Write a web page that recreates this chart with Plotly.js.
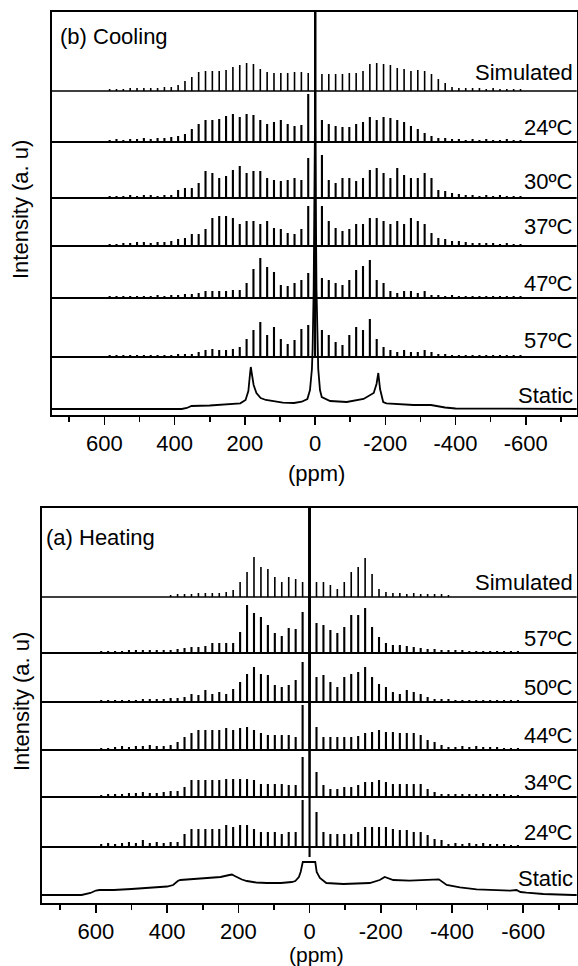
<!DOCTYPE html>
<html>
<head>
<meta charset="utf-8">
<script src="https://cdn.plot.ly/plotly-3.0.1.min.js"></script>
<style>html,body{margin:0;padding:0;background:#fff;}#chart{width:578px;height:966px;}</style>
</head>
<body>
<div id="chart"></div>
<script>
// ---------------- DATA ----------------
// spinning-sideband order (n) and sideband spacing in ppm
const sbOrder = [30,29,28,27,26,25,24,23,22,21,20,19,18,17,16,15,14,13,12,11,10,9,8,7,6,5,4,3,2,1,0,
  -1,-2,-3,-4,-5,-6,-7,-8,-9,-10,-11,-12,-13,-14,-15,-16,-17,-18,-19,-20,-21,-22,-23,-24,-25,-26,-27,-28,-29,-30];
const sbSpacingPpm = 19.5;

// tick labels
const tickVals = [600,400,200,0,-200,-400,-600];
const tickText = ["600","400","200","0","-200","-400","-600"];
const minorVals = [700,500,300,100,-100,-300,-500,-700];

// (b) Cooling – sideband intensities (n = 30 ... -30)
const coolLabels = ["Simulated","24ºC","30ºC","37ºC","47ºC","57ºC","Static"];
const coolSim = [2,2,2,3,3,3,3,3,4,4, 6,10,14,19,20,20,20,21,24,26, 28,27,22,19,18,18,18,19,19,18, 3,
  17,17,17,17,18,18,20,27,28,27, 26,23,22,20,21,20,17,12,8,4, 3,3,3,3,2,3,2,2,2,2];
const cool24 = [2,3,2,3,3,4,3,4,4,5, 6,8,13,18,22,22,23,26,28,25, 28,27,22,18,20,22,18,16,17,48, 500,
  22,18,16,15,15,18,20,25,22,25, 24,22,20,16,13,9,6,4,4,3, 3,2,3,2,3,2,2,3,2,2];
const cool30 = [2,2,2,3,2,3,3,2,3,3, 8,10,10,15,27,25,20,22,28,32, 25,27,27,20,18,17,18,20,18,40, 500,
  43,18,15,20,20,17,20,28,30,25, 20,30,23,20,20,25,20,8,7,5, 4,3,3,2,3,2,3,2,2,2];
const cool37 = [2,2,3,3,4,4,3,4,4,5, 7,8,12,12,17,28,30,30,28,22, 25,25,22,25,18,17,13,12,17,40, 500,
  40,25,18,15,17,22,22,28,28,25, 22,25,22,28,25,22,13,8,7,5, 5,4,3,3,3,3,2,3,2,2];
const cool47 = [2,2,2,2,2,2,2,3,2,3, 3,4,4,5,7,7,7,7,8,8, 15,29,40,31,26,13,12,15,18,25, 500,
  20,18,15,13,18,28,32,38,18,15, 7,5,7,7,5,7,3,3,2,3, 2,2,2,2,2,2,2,2,2,2];
const cool57 = [2,2,2,2,2,2,2,2,2,2, 3,3,3,5,7,8,7,7,8,10, 18,27,35,22,30,18,13,17,28,32, 500,
  27,22,15,12,22,30,27,38,18,10, 7,5,7,5,5,7,5,3,3,2, 2,2,2,2,2,2,2,2,2,2];
// static line shape (ppm, intensity)
const coolStaticPpm = [750,380,365,352,300,250,213,198,190,185,183,180,175,167,155,140,92,60,38,22,14.5,9,7,4,0,
  -4,-7,-9,-14,-19,-43,-90,-138,-167,-175,-180,-185,-194,-203,-280,-330,-370,-400,-750];
const coolStaticInt = [0,0,1,3,3.5,4.5,5.7,9,18,36,42,35,24,16,11,9,6.3,6,7.3,10,19,40,60,120,300,
  120,60,40,19,12,8,7,10,16,25,36,20,7,5.7,4,4,1.5,0.5,0];

// (a) Heating
const heatLabels = ["Simulated","57ºC","50ºC","44ºC","34ºC","24ºC","Static"];
const heatSim = [0,0,0,0,0,0,0,0,0,0, 2,3,3,3,4,4,4,4,5,7, 15,25,40,30,28,20,15,20,18,15, 500,
  15,15,12,8,15,25,30,39,23,8, 5,4,4,3,4,3,3,3,3,2, 0,0,0,0,0,0,0,0,0,0];
const heat57 = [2,2,2,2,3,3,3,3,3,3, 3,4,5,6,6,7,10,10,10,10, 21,48,40,36,28,20,17,25,24,41, 500,
  30,28,23,20,26,38,38,45,26,16, 10,8,8,7,6,5,4,4,3,3, 3,3,2,2,2,2,2,2,2,2];
const heat50 = [2,2,2,2,2,2,3,3,3,3, 4,4,5,8,7,12,8,10,8,13, 20,28,35,28,27,17,15,17,22,40, 500,
  25,27,20,15,25,28,30,35,25,18, 15,10,8,12,10,8,5,3,3,3, 2,2,2,2,2,2,2,2,2,2];
const heat44 = [2,2,3,4,3,4,4,5,4,4, 5,8,13,17,20,20,20,20,22,20, 22,23,20,17,15,15,15,15,13,45, 500,
  23,13,13,13,13,13,14,17,18,20, 18,18,17,17,17,15,10,8,5,3, 3,4,3,4,3,3,3,2,2,2];
const heat34 = [2,3,3,3,4,4,5,4,4,5, 6,6,10,17,17,17,17,17,18,18, 18,18,17,13,13,13,13,12,12,40, 500,
  25,12,8,8,10,10,12,15,15,17, 15,13,13,13,13,13,8,5,3,3, 3,3,3,3,3,3,3,3,2,2];
const heat24 = [3,4,3,4,5,4,7,4,5,4, 5,5,13,18,18,18,18,18,22,20, 22,22,18,15,15,15,13,15,15,47, 500,
  35,15,13,13,13,13,15,20,20,20, 20,18,17,17,15,15,12,8,7,3, 4,3,4,3,4,3,3,3,2,2];
const heat24CenterDip = -10;
const heatStaticPpm = [757,640,615,600,590,550,500,450,400,383,370,363,340,300,250,225,218,210,190,176,150,120,80,50,40,30,25,19,
  -16,-20,-29,-47,-95,-169,-197,-211,-235,-281,-356,-363,-385,-422,-469,-516,-563,-581,-592,-609,-656,-740,-757];
const heatStaticInt = [0,0,2,4.5,5,5,6,7.5,8.5,10,14,15,15.5,16.5,18,20,20.5,19,15.5,14,12.5,12,12,13,14,18,23,33,
  33,23,17,12,11,12,15,18,15,14.3,15,15.7,10,7.7,5.7,5,4.3,5,3,2.3,1,0,0];

// ---------------- LAYOUT HELPERS ----------------
const W = 578, H = 966;
const panels = {
  b: {left:51.7, right:576.7, top:12, bottom:415, range:[750,-745],
      base:[324,273,217,169,117,58,6], labelY:[72,128,182,227,283,340,395],
      title:"(b) Cooling", titleX:58, titleY:37, ppmY:473, ppmSize:22, axisTitleY:210},
  a: {left:41.7, right:576.7, top:508, bottom:903, range:[752,-750],
      base:[306,250,201,153,106,56,8], labelY:[582,638,687,735,782,832,878],
      title:"(a) Heating", titleX:44, titleY:537, ppmY:954, ppmSize:21, axisTitleY:702}
};

function spikeTrace(heights, base, xa, ya, dip, width) {
  const x = [800], y = [base];
  heights.forEach((h, i) => {
    const p = sbOrder[i] * sbSpacingPpm;
    if (sbOrder[i] === 0 && dip) {
      x.push(p, p, p, p); y.push(base, base + h, base + dip, base);
    } else {
      x.push(p, p, p); y.push(base, base + h, base);
    }
  });
  x.push(-800); y.push(base);
  return {x, y, xaxis: xa, yaxis: ya, mode: 'lines', type: 'scatter', hoverinfo: 'skip',
          line: {color: '#000', width: width}};
}
function staticTrace(ppm, inten, base, xa, ya) {
  return {x: ppm, y: inten.map(v => v + base), xaxis: xa, yaxis: ya, mode: 'lines', type: 'scatter',
          hoverinfo: 'skip', line: {color: '#000', width: 1.8}};
}

const traces = [];
const pb = panels.b, pa = panels.a;
const coolSeries = [coolSim, cool24, cool30, cool37, cool47, cool57];
coolSeries.forEach((s, i) => traces.push(spikeTrace(s, pb.base[i], 'x', 'y', 0, i === 0 ? 1.6 : 2.1)));
traces.push(staticTrace(coolStaticPpm, coolStaticInt, pb.base[6], 'x', 'y'));
const heatSeries = [heatSim, heat57, heat50, heat44, heat34, heat24];
heatSeries.forEach((s, i) => traces.push(spikeTrace(s, pa.base[i], 'x2', 'y2', i === 5 ? heat24CenterDip : 0, i === 0 ? 1.6 : 2.1)));
traces.push(staticTrace(heatStaticPpm, heatStaticInt, pa.base[6], 'x2', 'y2'));

const FONT = 'Liberation Sans, Arial, Helvetica, sans-serif';
function xAxis(p, anchor) {
  return {domain: [p.left / W, p.right / W], range: p.range, anchor: anchor,
    tickmode: 'array', tickvals: tickVals, ticktext: tickText,
    ticks: 'outside', ticklen: 8, tickwidth: 1.6, tickcolor: '#000',
    minor: {tickmode: 'array', tickvals: minorVals, ticks: 'outside', ticklen: 5, tickwidth: 1.6, tickcolor: '#000'},
    tickfont: {family: FONT, size: 22, color: '#000'},
    showline: true, mirror: true, linecolor: '#000', linewidth: 1.8,
    showgrid: false, zeroline: false, fixedrange: true};
}
function yAxis(p, anchor) {
  return {domain: [1 - p.bottom / H, 1 - p.top / H], range: [0, p.bottom - p.top], anchor: anchor,
    showticklabels: false, ticks: '', showline: true, mirror: true, linecolor: '#000', linewidth: 1.8,
    showgrid: false, zeroline: false, fixedrange: true};
}

const annotations = [];
function addText(text, xpx, ypx, xanchor, angle, size) {
  annotations.push({text: text, xref: 'paper', yref: 'paper', x: xpx / W, y: 1 - ypx / H,
    xanchor: xanchor, yanchor: 'middle', showarrow: false, textangle: angle || 0,
    font: {family: FONT, size: size || 22, color: '#000'}});
}
[[pb, coolLabels], [pa, heatLabels]].forEach(([p, labels]) => {
  labels.forEach((t, i) => addText(t, 575, p.labelY[i], 'right'));
  addText(p.title, p.titleX, p.titleY, 'left');
  addText('(ppm)', 316, p.ppmY, 'center', 0, p.ppmSize);
  addText('Intensity (a. u)', 21, p.axisTitleY, 'center', -90);
});

const layout = {
  width: W, height: H, margin: {l: 0, r: 0, t: 0, b: 0, pad: 0},
  paper_bgcolor: '#fff', plot_bgcolor: '#fff', showlegend: false,
  font: {family: FONT, size: 22, color: '#000'},
  xaxis: xAxis(pb, 'y'), yaxis: yAxis(pb, 'x'),
  xaxis2: xAxis(pa, 'y2'), yaxis2: yAxis(pa, 'x2'),
  annotations: annotations
};
Plotly.newPlot('chart', traces, layout, {displayModeBar: false, staticPlot: true});
</script>
</body>
</html>
